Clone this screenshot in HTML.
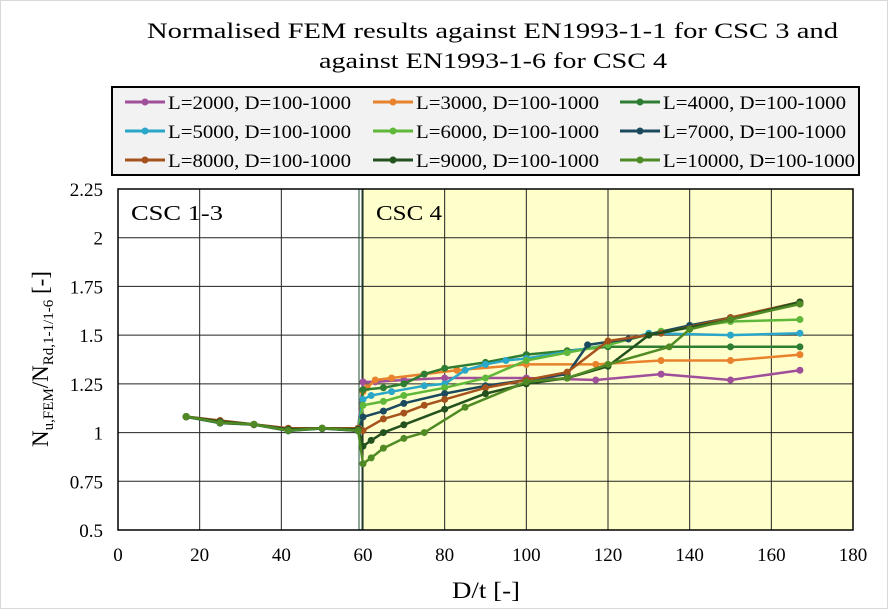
<!DOCTYPE html>
<html><head><meta charset="utf-8"><style>
html,body{margin:0;padding:0;background:#fff}
body{width:888px;height:609px;overflow:hidden}
svg text{font-family:"Liberation Serif",serif;fill:#000}
</style></head><body>
<svg id="s" width="888" height="609" xmlns="http://www.w3.org/2000/svg">
<rect x="0.5" y="0.5" width="887" height="608" fill="#fff" stroke="#d9d9d9"/>
<text x="147" y="38" font-size="22" textLength="691" lengthAdjust="spacingAndGlyphs">Normalised FEM results against EN1993-1-1 for CSC 3 and</text>
<text x="319" y="68" font-size="22" textLength="348" lengthAdjust="spacingAndGlyphs">against EN1993-1-6 for CSC 4</text>
<rect x="112" y="87" width="747" height="88" fill="#f2f2f2" stroke="#000" stroke-width="2"/>
<g id="leg"></g>
<rect x="118" y="189" width="735" height="341" fill="#fff"/>
<rect x="362" y="189" width="491" height="341" fill="#ffffcc"/>
<g id="grid"></g>
<g id="ser"></g>
<text x="131" y="220" font-size="21" textLength="92" lengthAdjust="spacingAndGlyphs">CSC 1-3</text>
<text x="376" y="220" font-size="21" textLength="66" lengthAdjust="spacingAndGlyphs">CSC 4</text>
<text x="452" y="598" font-size="23" textLength="68" lengthAdjust="spacingAndGlyphs">D/t [-]</text>
<text transform="translate(48,359) rotate(-90)" font-size="23" text-anchor="middle">N<tspan font-size="15" dy="5">u,FEM</tspan><tspan dy="-5">/N</tspan><tspan font-size="15" dy="5">Rd,1-1/1-6</tspan><tspan dy="-5"> [-]</tspan></text>
</svg>
<script>
var NS="http://www.w3.org/2000/svg";
function el(p,t,a,txt){var e=document.createElementNS(NS,t);for(var k in a)e.setAttribute(k,a[k]);if(txt!=null)e.textContent=txt;document.getElementById(p).appendChild(e);return e;}
function X(v){return 118+v*735/180;}
function Y(v){return 189+(2.25-v)*341/1.75;}
for(var i=0;i<=9;i++){var x=X(i*20);el("grid","line",{x1:x,y1:189,x2:x,y2:530,stroke:"#222",'stroke-width':1});el("grid","text",{x:x,y:561,'font-size':19,'text-anchor':'middle'},String(i*20));}
for(var j=0;j<=7;j++){var v=0.5+j*0.25,y=Y(v);el("grid","line",{x1:118,y1:y,x2:853,y2:y,stroke:"#222",'stroke-width':1});el("grid","text",{x:103,y:y+7,'font-size':19,'text-anchor':'end'},String(+v.toFixed(2)));}
el("grid","line",{x1:359,y1:189,x2:359,y2:530,stroke:"#1e4d2b",'stroke-width':1});
el("grid","line",{x1:362,y1:189,x2:362,y2:530,stroke:"#1e4d2b",'stroke-width':1});
el("grid","rect",{x:118,y:189,width:735,height:341,fill:"none",stroke:"#000",'stroke-width':1.5});
var cols=["#a0509a","#e8822c","#2e7d32","#2aa6c8","#5fb83a","#1b4a5e","#a5521c","#24521f","#4f8a24"];
var names=["2000","3000","4000","5000","6000","7000","8000","9000","10000"];
var lxs=[125,373,620];
for(var i=0;i<9;i++){var c=i%3,r=Math.floor(i/3);var lx=lxs[c],ly=102+r*29;
el("leg","line",{x1:lx,y1:ly,x2:lx+40,y2:ly,stroke:cols[i],'stroke-width':3});
el("leg","circle",{cx:lx+20,cy:ly,r:3.5,fill:cols[i]});
el("leg","text",{x:lx+43,y:ly+7,'font-size':19,textLength:(i==8?192:183),lengthAdjust:"spacingAndGlyphs"},"L="+names[i]+", D=100-1000");}
var low=[[16.7,1.08],[25,1.06],[33.3,1.04],[41.7,1.02],[50,1.02],[58.8,1.02]];
var data=[
[[60,1.26],[63,1.26],[70,1.27],[80,1.28],[100,1.28],[117,1.27],[133,1.30],[150,1.27],[167,1.32]],
[[60,1.21],[61,1.23],[63,1.27],[67,1.28],[75,1.30],[83,1.32],[100,1.35],[117,1.35],[133,1.37],[150,1.37],[167,1.40]],
[[60,1.22],[65,1.23],[70,1.25],[75,1.30],[80,1.33],[90,1.36],[100,1.40],[110,1.42],[120,1.44],[150,1.44],[167,1.44]],
[[60,1.17],[62,1.19],[67,1.21],[75,1.24],[80,1.25],[85,1.32],[90,1.35],[95,1.37],[100,1.38],[120,1.45],[130,1.51],[150,1.50],[167,1.51]],
[[60,1.14],[65,1.16],[70,1.19],[80,1.23],[90,1.28],[100,1.37],[110,1.41],[120,1.45],[133,1.52],[150,1.57],[167,1.58]],
[[60,1.08],[65,1.11],[70,1.15],[80,1.20],[90,1.24],[100,1.27],[110,1.30],[115,1.45],[125,1.48],[140,1.55],[150,1.59],[167,1.66]],
[[60,1.01],[65,1.07],[70,1.10],[75,1.14],[80,1.17],[90,1.23],[100,1.27],[110,1.31],[120,1.47],[133,1.51],[150,1.59],[167,1.67]],
[[60,0.93],[62,0.96],[65,1.00],[70,1.04],[80,1.12],[90,1.20],[100,1.25],[110,1.28],[120,1.34],[130,1.50],[150,1.58],[167,1.67]],
[[60,0.84],[62,0.87],[65,0.92],[70,0.97],[75,1.00],[85,1.13],[100,1.26],[110,1.28],[120,1.35],[135,1.44],[140,1.53],[150,1.58],[167,1.66]]];
for(var i=0;i<9;i++){var pts=low.map(function(p,k){return [p[0],p[1]-0.006*(k%2)*(i%3)+0.003*i/9];}).concat(data[i]);
var d=pts.map(function(p,k){return (k?"L":"M")+X(p[0]).toFixed(1)+" "+Y(p[1]).toFixed(1);}).join(" ");
el("ser","path",{d:d,fill:"none",stroke:cols[i],'stroke-width':2.5,'stroke-linejoin':'round'});
pts.forEach(function(p){el("ser","circle",{cx:X(p[0]),cy:Y(p[1]),r:3.5,fill:cols[i]});});}
</script>
</body></html>
